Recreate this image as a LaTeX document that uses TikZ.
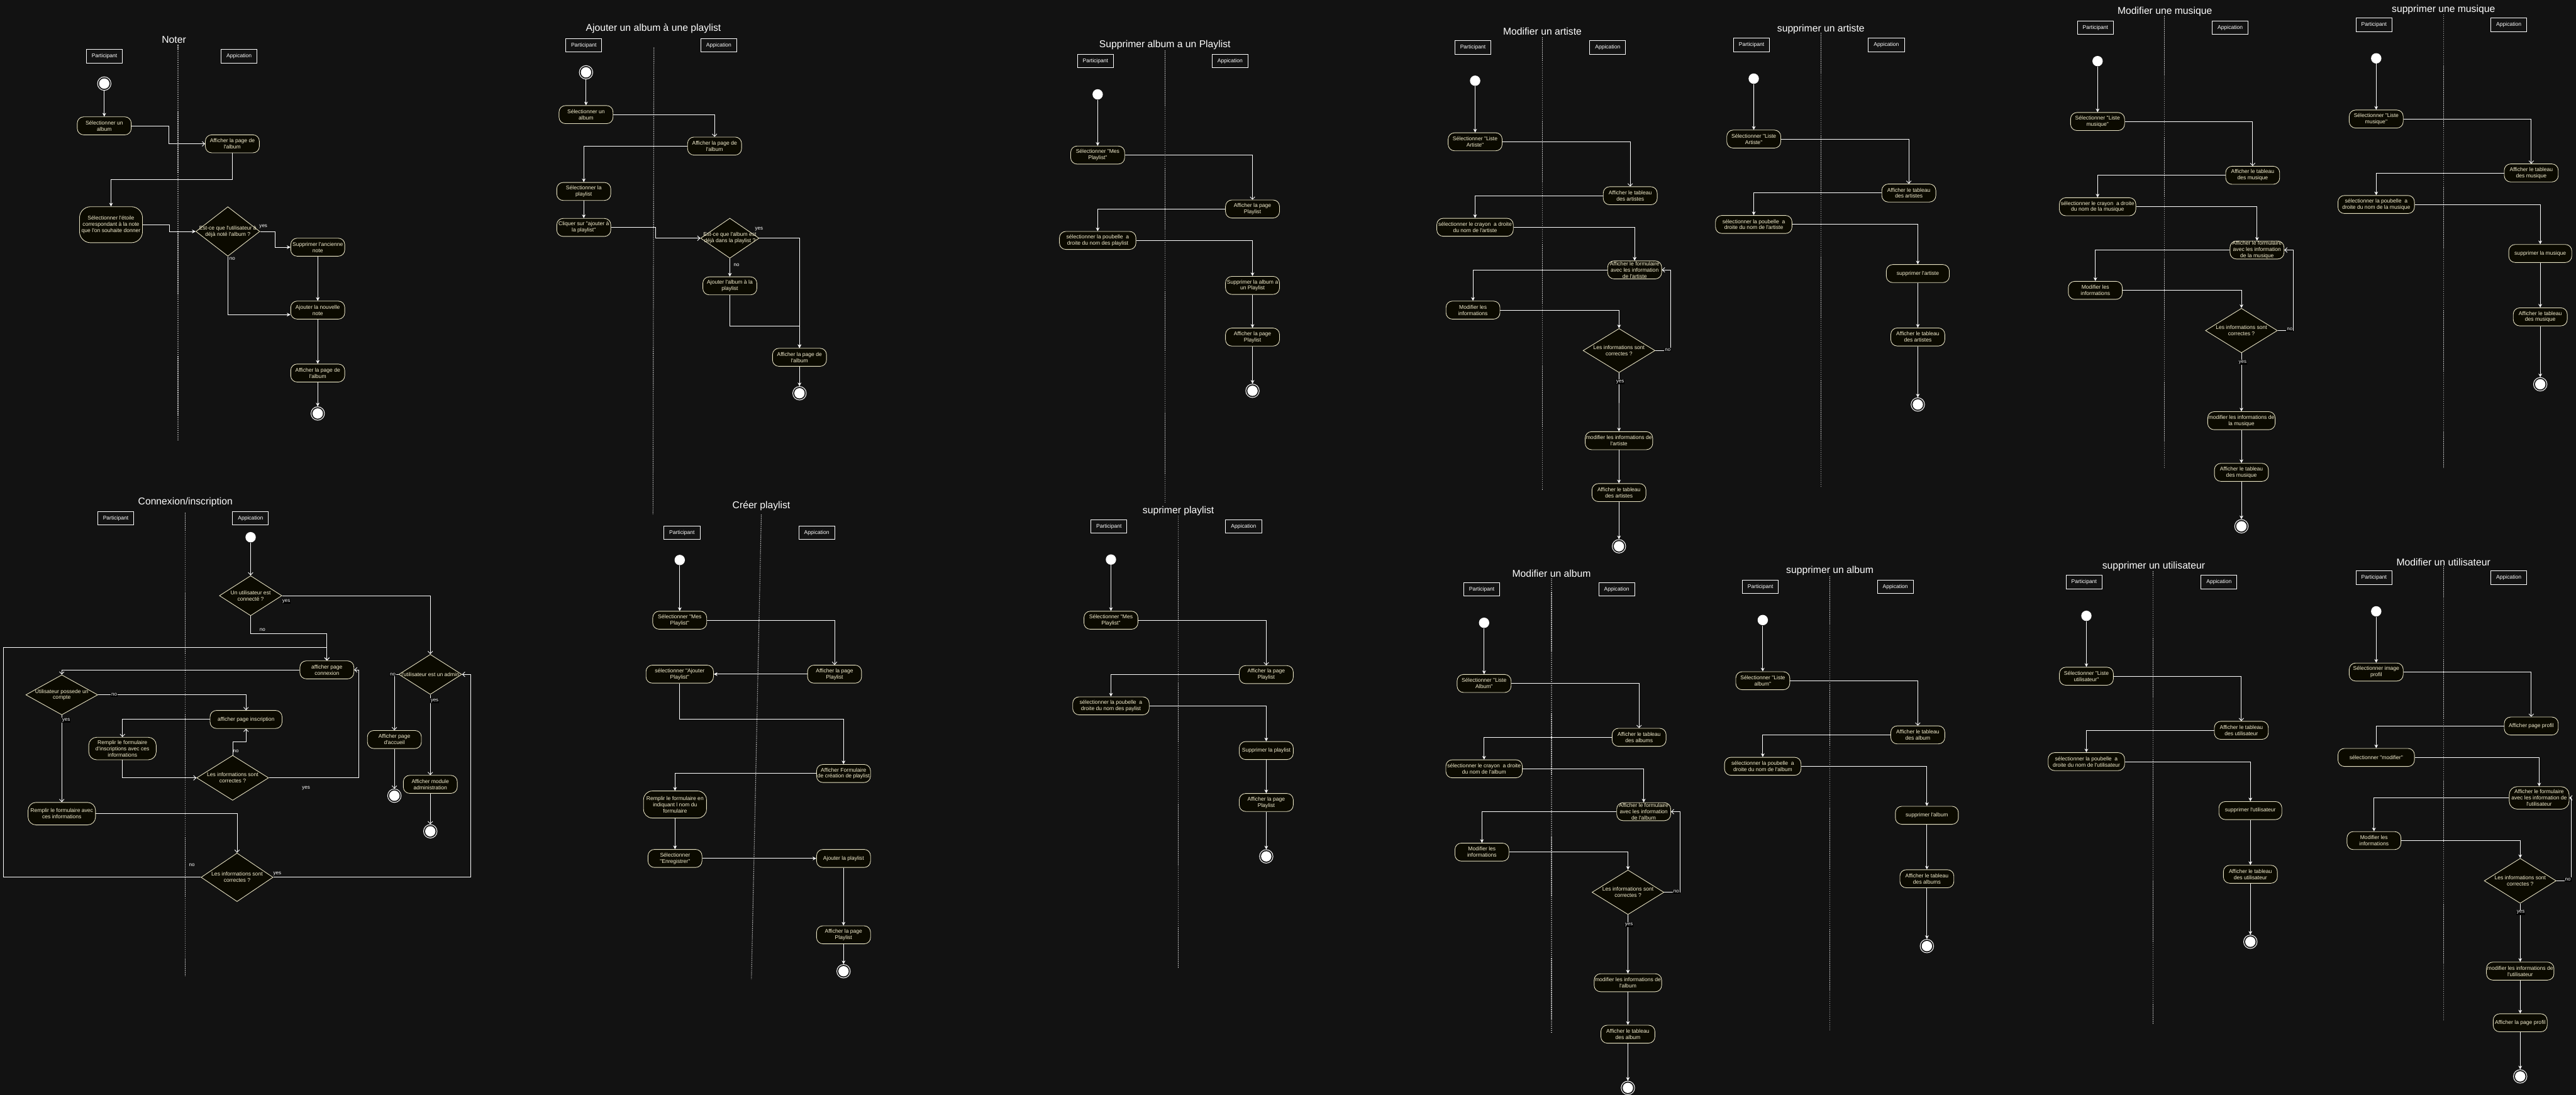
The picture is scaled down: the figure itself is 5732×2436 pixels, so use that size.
\documentclass[tikz,border=0pt]{standalone}
\usepackage{fontspec}
\newfontfamily\lsans{Liberation Sans}
\usetikzlibrary{arrows.meta,shapes.geometric}
\definecolor{bgc}{HTML}{121212}
\definecolor{nfill}{HTML}{0B0A00}
\definecolor{ndraw}{HTML}{E9E4C4}
\definecolor{ntext}{HTML}{F6F0D2}
\definecolor{dvc}{HTML}{BBBBBB}
\newcommand{\fnode}{\lsans\fontsize{3.41pt}{3.95pt}\selectfont}
\newcommand{\ftitle}{\lsans\fontsize{6.25pt}{7.5pt}\selectfont}
\newcommand{\flab}{\lsans\fontsize{3.2pt}{3.8pt}\selectfont}
\tikzset{
  act/.style={rectangle, rounded corners=4pt, draw=ndraw, fill=nfill, text=ntext, font=\fnode, align=center, inner sep=0pt, line width=0.35pt, minimum width=1.2cm, minimum height=0.4cm},
  dec/.style={diamond, draw=ndraw, fill=nfill, inner sep=0pt, line width=0.35pt, minimum width=1.6cm, minimum height=1cm},
  dtx/.style={text=ntext, font=\fnode, align=center, inner sep=0pt},
  strt/.style={circle, fill=white, inner sep=0pt, minimum size=0.23cm},
  fin/.style={circle, draw=white, fill=bgc, line width=0.4pt, inner sep=0pt, minimum size=0.3cm, path picture={\fill[white] (path picture bounding box.center) circle (0.115cm);}},
  lane/.style={rectangle, draw=white, fill=bgc, text=white, font=\fnode, inner sep=0pt, minimum width=0.8cm, minimum height=0.3cm, line width=0.35pt},
  ttl/.style={text=white, font=\ftitle, inner sep=0pt},
  dvd/.style={draw=dvc, line width=0.45pt, dash pattern=on 0.6pt off 0.6pt},
  farr/.style={draw=white, line width=0.35pt, -{Stealth[length=2.3pt, width=2.3pt, inset=0.7pt]}},
  oarr/.style={draw=white, line width=0.35pt, -{Straight Barb[length=1.6pt, width=3pt]}},
  lab/.style={text=white, font=\flab, inner sep=0.4pt},
  labb/.style={lab, fill=black},
}
\begin{document}
\begin{tikzpicture}[x=0.01cm, y=-0.01cm]
\fill[bgc] (0,0) rectangle (5732,2436);
\useasboundingbox (0,0) rectangle (5732,2436);

% ================= Noter
\draw[dvd] (396,100) -- (396,980);
\node[ttl] (tNo) at (387,88) {Noter};
\node[lane] (pNo) at (232.5,125) {Participant};
\node[lane] (aNo) at (532,125) {Appication};
\node[fin] (sNo) at (232,186) {};
\node[act] (na1) at (232,280) {Sélectionner un\\album};
\node[act] (na2) at (517,320) {Afficher la page de\\l'album};
\node[act, minimum width=1.4cm, minimum height=0.8cm, rounded corners=7pt] (na3) at (247,500) {Sélectionner l'étoile\\correspondant à la note\\que l'on souhaite donner};
\node[dec, minimum width=1.42cm, minimum height=1.1cm, label={[dtx]center:{Est-ce que l'utilisateur à\\déjà noté l'album ?}}] (nad) at (507,515) {};
\node[act] (na4) at (707,550) {Supprimer l'ancienne\\note};
\node[act] (na5) at (707,690) {Ajouter la nouvelle\\note};
\node[act] (na6) at (707,830) {Afficher la page de\\l'album};
\node[fin] (eNo) at (707,920) {};
\draw[farr] (sNo) -- (na1);
\draw[oarr] (na1.east) -- (375,280) |- (na2.west);
\draw[farr] (na2.south) -- (517,400) -| (na3.north);
\draw[farr] (na3.east) -- (377,500) |- (nad.west);
\draw[farr] (nad.east) -- (612,515) |- (na4.west);
\draw[farr] (na4) -- (na5);
\draw[farr] (nad.south) |- ([yshift=-0.1cm]na5.west);
\draw[farr] (na5) -- (na6);
\draw[farr] (na6) -- (eNo);
\node[lab] (yNo) at (586,504) {yes};
\node[lab] (nNo) at (517,575) {no};

% ================= Ajouter un album a une playlist
\draw[dvd] (1455,106) -- (1453,1145);
\node[ttl] (tAj) at (1454,64) {Ajouter un album à une playlist};
\node[lane] (pAj) at (1299,100.5) {Participant};
\node[lane] (aAj) at (1599.5,100.5) {Appication};
\node[fin] (sAj) at (1304,161) {};
\node[act] (ab1) at (1304,255) {Sélectionner un\\album};
\node[act] (ab2) at (1590,325) {Afficher la page de\\l'album};
\node[act] (ab3) at (1299,426) {Sélectionner la\\playlist};
\node[act] (ab4) at (1299,506) {Cliquer sur "ajouter à\\la playlist"};
\node[dec, minimum width=1.3cm, minimum height=0.89cm, label={[dtx]center:{Est-ce que l'album est\\déjà dans la playlist ?}}] (abd) at (1624,530) {};
\node[act] (ab5) at (1624,636) {Ajouter l'album à la\\playlist};
\node[act] (ab6) at (1779,795) {Afficher la page de\\l'album};
\node[fin] (eAj) at (1779,875) {};
\draw[farr] (sAj) -- (ab1);
\draw[oarr] (ab1.east) -| (ab2.north);
\draw[farr] (ab2.west) -| (ab3.north);
\draw[farr] (ab3) -- (ab4);
\draw[oarr] (ab4.east) -- (1459,506) |- (abd.west);
\draw[farr] (abd) -- (ab5);
\draw[farr] (abd.east) -| (ab6.north);
\draw[farr] (ab5.south) -- (1624,725) -| (ab6.north);
\draw[farr] (ab6) -- (eAj);
\node[lab] (yAj) at (1689,509) {yes};
\node[lab] (nAj) at (1639,589) {no};

% ================= Creer playlist
\draw[dvd] (1694,1145) -- (1672,2179);
\node[ttl] (tCr) at (1694,1126) {Créer playlist};
\node[lane] (pCr) at (1517.5,1185) {Participant};
\node[lane] (aCr) at (1817.3,1185) {Appication};
\node[strt] (sCr) at (1512.5,1246) {};
\node[act] (cp1) at (1512.5,1380) {Sélectionner "Mes\\Playlist"};
\node[act] (cp2) at (1857,1500) {Afficher la page\\Playlist};
\node[act, minimum width=1.5cm] (cp3) at (1512.5,1500) {sélectionner "Ajouter\\Playlist"};
\node[act] (cp4) at (1877,1721) {Afficher Formulaire\\de création de playlist};
\node[act, minimum width=1.4cm, minimum height=0.6cm, rounded corners=5.5pt] (cp5) at (1502,1790) {Remplir le formulaire en\\indiquant l nom du\\formulaire};
\node[act] (cp6) at (1502,1910) {Sélectionner\\"Enregistrer"};
\node[act] (cp7) at (1877,1910) {Ajouter la playlist};
\node[act] (cp8) at (1877,2080) {Afficher la page\\Playlist};
\node[fin] (eCr) at (1877,2161) {};
\draw[farr] (sCr) -- (cp1);
\draw[oarr] (cp1.east) -| (cp2.north);
\draw[farr] (cp2) -- (cp3);
\draw[farr] (cp3.south) -- (1512.5,1600) -| (cp4.north);
\draw[farr] (cp4.west) -| (cp5.north);
\draw[farr] (cp5) -- (cp6);
\draw[farr] (cp6) -- (cp7);
\draw[farr] (cp7) -- (cp8);
\draw[farr] (cp8) -- (eCr);

% ================= Supprimer album a un Playlist
\draw[dvd] (2592,112) -- (2592,1118);
\node[ttl] (tSa) at (2592,100) {Supprimer album a un Playlist};
\node[lane] (pSa) at (2437.5,135.5) {Participant};
\node[lane] (aSa) at (2737,135.5) {Appication};
\node[strt] (sSa) at (2442.5,210) {};
\node[act] (sa1) at (2442.5,345) {Sélectionner "Mes\\Playlist"};
\node[act] (sa2) at (2787,465) {Afficher la page\\Playlist};
\node[act, minimum width=1.7cm] (sa3) at (2442.5,535) {sélectionner la poubelle~ a\\droite du nom des playlist};
\node[act] (sa4) at (2787,635) {Supprimer la album a\\un Playlist};
\node[act] (sa5) at (2787,750) {Afficher la page\\Playlist};
\node[fin] (eSa) at (2787,869.5) {};
\draw[farr] (sSa) -- (sa1);
\draw[oarr] (sa1.east) -| (sa2.north);
\draw[farr] (sa2.west) -| (sa3.north);
\draw[farr] (sa3.east) -| (sa4.north);
\draw[farr] (sa4) -- (sa5);
\draw[farr] (sa5) -- (eSa);

% ================= suprimer playlist
\draw[dvd] (2622,1147) -- (2622,2154);
\node[ttl] (tSp) at (2622,1137) {suprimer playlist};
\node[lane] (pSp) at (2467.6,1171) {Participant};
\node[lane] (aSp) at (2767.3,1171) {Appication};
\node[strt] (sSp) at (2472,1245) {};
\node[act] (sp1) at (2472,1380) {Sélectionner "Mes\\Playlist"};
\node[act] (sp2) at (2817.6,1501) {Afficher la page\\Playlist};
\node[act, minimum width=1.7cm] (sp3) at (2472,1570.5) {sélectionner la poubelle~ a\\droite du nom des paylist};
\node[act] (sp4) at (2817.6,1670) {Supprimer la playlist};
\node[act] (sp5) at (2817.6,1785.5) {Afficher la page\\Playlist};
\node[fin] (eSp) at (2817.6,1905.5) {};
\draw[farr] (sSp) -- (sp1);
\draw[oarr] (sp1.east) -| (sp2.north);
\draw[farr] (sp2.west) -| (sp3.north);
\draw[farr] (sp3.east) -| (sp4.north);
\draw[farr] (sp4) -- (sp5);
\draw[farr] (sp5) -- (eSp);

% ================= Modifier un artiste
\draw[dvd] (3432,83) -- (3432,1090);
\node[ttl] (tMa) at (3432,70) {Modifier un artiste};
\node[lane] (pMa) at (3277.4,105.5) {Participant};
\node[lane] (aMa) at (3577.3,105.5) {Appication};
\node[strt] (sMa) at (3282.4,179.6) {};
\node[act] (ma1) at (3282.4,315.5) {Sélectionner "Liste\\Artiste"};
\node[act] (ma2) at (3627.5,435.5) {Afficher le tableau\\des artistes};
\node[act, minimum width=1.7cm] (ma3) at (3282.2,505.7) {sélectionner le crayon~ a droite\\du nom de l'artiste};
\node[act] (ma4) at (3637.3,600.5) {Afficher le formulaire\\avec les information\\de l'artiste};
\node[act] (ma5) at (3277.6,690) {Modifier les\\informations};
\node[dec, minimum width=1.6cm, minimum height=0.98cm, label={[dtx]center:{Les informations sont\\correctes ?}}] (mad) at (3602.6,780) {};
\node[act, minimum width=1.5cm] (ma6) at (3602.4,980.5) {modifier les informations de\\l'artiste};
\node[act] (ma7) at (3602.4,1096) {Afficher le tableau\\des artistes};
\node[fin] (eMa) at (3602.4,1215.5) {};
\draw[farr] (sMa) -- (ma1);
\draw[oarr] (ma1.east) -| (ma2.north);
\draw[farr] (ma2.west) -| (ma3.north);
\draw[farr] (ma3.east) -| (ma4.north);
\draw[farr] (ma4.west) -| (ma5.north);
\draw[farr] (ma5.east) -| (mad.north);
\draw[oarr] (mad.east) -| ([xshift=0.2cm]ma4.east) -- (ma4.east);
\draw[farr] (mad) -- (ma6);
\draw[farr] (ma6) -- (ma7);
\draw[farr] (ma7) -- (eMa);
\node[labb] (nMa) at (3711,778) {no};
\node[labb] (yMa) at (3605,850) {yes};

% ================= supprimer un artiste
\draw[dvd] (4051.7,73) -- (4051.7,1084);
\node[ttl] (tSr) at (4051.7,65) {supprimer un artiste};
\node[lane] (pSr) at (3897.4,100) {Participant};
\node[lane] (aSr) at (4197.5,100) {Appication};
\node[strt] (sSr) at (3902.3,175) {};
\node[act] (sr1) at (3902.4,309.4) {Sélectionner "Liste\\Artiste"};
\node[act] (sr2) at (4247.4,429.5) {Afficher le tableau\\des artistes};
\node[act, minimum width=1.7cm] (sr3) at (3902.3,499.4) {sélectionner la poubelle~ a\\droite du nom de l'artiste};
\node[act, minimum width=1.4cm] (sr4) at (4267.4,608.7) {supprimer l'artiste};
\node[act] (sr5) at (4267.4,749.8) {Afficher le tableau\\des artistes};
\node[fin] (eSr) at (4267.4,900) {};
\draw[farr] (sSr) -- (sr1);
\draw[oarr] (sr1.east) -| (sr2.north);
\draw[farr] (sr2.west) -| (sr3.north);
\draw[farr] (sr3.east) -| (sr4.north);
\draw[farr] (sr4) -- (sr5);
\draw[farr] (sr5) -- (eSr);

% ================= Modifier une musique
\draw[dvd] (4816.6,35) -- (4816.6,1043);
\node[ttl] (tMm) at (4817,26) {Modifier une musique};
\node[lane] (pMm) at (4662.6,61.3) {Participant};
\node[lane] (aMm) at (4962.5,61.3) {Appication};
\node[strt] (sMm) at (4667.4,136) {};
\node[act] (mm1) at (4667.4,270.4) {Sélectionner "Liste\\musique"};
\node[act] (mm2) at (5012.5,390) {Afficher le tableau\\des musique};
\node[act, minimum width=1.7cm] (mm3) at (4667.4,460) {sélectionner le crayon~ a droite\\du nom de la musique};
\node[act] (mm4) at (5022.2,556.3) {Afficher le formulaire\\avec les information\\de la musique};
\node[act] (mm5) at (4662.4,646) {Modifier les\\informations};
\node[dec, minimum width=1.6cm, minimum height=0.99cm, label={[dtx]center:{Les informations sont\\correctes ?}}] (mmd) at (4987.5,735.5) {};
\node[act, minimum width=1.5cm] (mm6) at (4987.5,936) {modifier les informations de\\la musique};
\node[act] (mm7) at (4987.5,1051) {Afficher le tableau\\des musique};
\node[fin] (eMm) at (4987.5,1171) {};
\draw[farr] (sMm) -- (mm1);
\draw[oarr] (mm1.east) -| (mm2.north);
\draw[farr] (mm2.west) -| (mm3.north);
\draw[farr] (mm3.east) -| (mm4.north);
\draw[farr] (mm4.west) -| (mm5.north);
\draw[farr] (mm5.east) -| (mmd.north);
\draw[oarr] (mmd.east) -| ([xshift=0.2cm]mm4.east) -- (mm4.east);
\draw[farr] (mmd) -- (mm6);
\draw[farr] (mm6) -- (mm7);
\draw[farr] (mm7) -- (eMm);
\node[labb] (nMm) at (5095,733) {no};
\node[labb] (yMm) at (4990,806) {yes};

% ================= supprimer une musique
\draw[dvd] (5436.8,31.6) -- (5436.8,1041.7);
\node[ttl] (tSm) at (5437,21) {supprimer une musique};
\node[lane] (pSm) at (5282.5,55.5) {Participant};
\node[lane] (aSm) at (5582.5,55.5) {Appication};
\node[strt] (sSm) at (5287.4,129.8) {};
\node[act] (sm1) at (5287.4,264.8) {Sélectionner "Liste\\musique"};
\node[act] (sm2) at (5632.4,384.8) {Afficher le tableau\\des musique};
\node[act, minimum width=1.7cm] (sm3) at (5287.4,455) {sélectionner la poubelle~ a\\droite du nom de la musique};
\node[act, minimum width=1.4cm] (sm4) at (5652.4,564) {supprimer la musique};
\node[act] (sm5) at (5652.4,705) {Afficher le tableau\\des musique};
\node[fin] (eSm) at (5652.4,855) {};
\draw[farr] (sSm) -- (sm1);
\draw[oarr] (sm1.east) -| (sm2.north);
\draw[farr] (sm2.west) -| (sm3.north);
\draw[farr] (sm3.east) -| (sm4.north);
\draw[farr] (sm4) -- (sm5);
\draw[farr] (sm5) -- (eSm);

% ================= Connexion/inscription
\draw[dvd] (412.5,1141) -- (412.5,2172);
\node[ttl] (tCx) at (412.5,1118) {Connexion/inscription};
\node[lane] (pCx) at (257.5,1153) {Participant};
\node[lane] (aCx) at (557.4,1153) {Appication};
\node[strt] (sCx) at (557.7,1195.3) {};
\node[dec, minimum width=1.39cm, minimum height=0.89cm, label={[dtx]center:{Un utilisateur est\\connecté ?}}] (cxd1) at (557.7,1325.4) {};
\node[dec, minimum width=1.4cm, minimum height=0.89cm, label={[dtx]center:{l'utilisateur est un admin}}] (cxd2) at (957.5,1500.5) {};
\node[act] (cxa1) at (727.4,1490.4) {afficher page\\connexion};
\node[dec, minimum width=1.6cm, minimum height=0.89cm, label={[dtx]center:{Utilisateur possede un\\compte}}] (cxd3) at (137.5,1546) {};
\node[act, minimum width=1.6cm] (cxa2) at (547.5,1600.8) {afficher page inscription};
\node[act, minimum width=1.5cm, minimum height=0.5cm, rounded corners=5pt] (cxa3) at (272.5,1665.5) {Remplir le formulaire\\d'inscriptions avec ces\\informations};
\node[dec, minimum width=1.6cm, minimum height=1cm, label={[dtx]center:{Les informations sont\\correctes ?}}] (cxd5) at (517.7,1730.7) {};
\node[act, minimum width=1.5cm, minimum height=0.5cm, rounded corners=5pt] (cxa4) at (137.5,1810.4) {Remplir le formulaire avec\\ces informations};
\node[dec, minimum width=1.6cm, minimum height=1.08cm, label={[dtx]center:{Les informations sont\\correctes ?}}] (cxd4) at (527.5,1952) {};
\node[act] (cxa5) at (877.6,1645.4) {Afficher page\\d'accueil};
\node[fin] (eCx1) at (877.6,1770.4) {};
\node[act] (cxa6) at (957.5,1745.2) {Afficher module\\administration};
\node[fin] (eCx2) at (957.5,1849.7) {};
\draw[oarr] (sCx) -- (cxd1);
\draw[oarr] (cxd1.east) -| (cxd2.north);
\draw[oarr] (cxd1.south) -- (557.7,1410) -| (cxa1.north);
\draw[oarr] (cxd4.west) -| (7,1440.4) -| (cxa1.north);
\draw[oarr] (cxa1.west) -| (cxd3.north);
\draw[oarr] (cxd3.east) -| (cxa2.north);
\draw[oarr] (cxa2.west) -| (cxa3.north);
\draw[oarr] (cxa3.south) |- (cxd5.west);
\draw[oarr] (cxd5.north) -- (517.7,1650.8) -| (cxa2.south);
\draw[oarr] (cxd5.east) -| (797.6,1490.4) -- (cxa1.east);
\draw[oarr] (cxd3) -- (cxa4);
\draw[oarr] (cxa4.east) -| (cxd4.north);
\draw[oarr] (cxd4.east) -| (1047.3,1500.5) -- (cxd2.east);
\draw[oarr] (cxd2.west) -| (cxa5.north);
\draw[oarr] (cxa5) -- (eCx1);
\draw[oarr] (cxd2) -- (cxa6);
\draw[oarr] (cxa6) -- (eCx2);
\node[labb] (yCx1) at (637,1338) {yes};
\node[lab] (nCx1) at (584,1401) {no};
\node[lab] (nCx2) at (427,1925) {no};
\node[labb] (nCx3) at (254,1546) {no};
\node[lab] (nCx4) at (525,1671) {no};
\node[lab] (yCx2) at (681,1753) {yes};
\node[labb] (yCx3) at (147,1603) {yes};
\node[lab] (yCx4) at (617,1944) {yes};
\node[labb] (nCx5) at (874,1500) {no};
\node[labb] (yCx5) at (967,1558.5) {yes};

% ================= Modifier un album
\draw[dvd] (3452.3,1287.3) -- (3452.3,2296.5);
\node[ttl] (tMb) at (3452.3,1276.6) {Modifier un album};
\node[lane] (pMb) at (3297.1,1311) {Participant};
\node[lane] (aMb) at (3597.3,1311) {Appication};
\node[strt] (sMb) at (3302.3,1385.7) {};
\node[act] (mb1) at (3302.3,1520.7) {Sélectionner "Liste\\Album"};
\node[act] (mb2) at (3647.2,1640.5) {Afficher le tableau\\des albums};
\node[act, minimum width=1.7cm] (mb3) at (3302.3,1710.6) {sélectionner le crayon~ a droite\\du nom de l'album};
\node[act] (mb4) at (3657.5,1806) {Afficher le formulaire\\avec les information\\de l'album};
\node[act] (mb5) at (3297.5,1896) {Modifier les\\informations};
\node[dec, minimum width=1.6cm, minimum height=0.99cm, label={[dtx]center:{Les informations sont\\correctes ?}}] (mbd) at (3622.5,1985.3) {};
\node[act, minimum width=1.5cm] (mb6) at (3622.3,2186.6) {modifier les informations de\\l'album};
\node[act] (mb7) at (3622.3,2301) {Afficher le tableau\\des album};
\node[fin] (eMb) at (3622.3,2420.5) {};
\draw[farr] (sMb) -- (mb1);
\draw[oarr] (mb1.east) -| (mb2.north);
\draw[farr] (mb2.west) -| (mb3.north);
\draw[farr] (mb3.east) -| (mb4.north);
\draw[farr] (mb4.west) -| (mb5.north);
\draw[farr] (mb5.east) -| (mbd.north);
\draw[oarr] (mbd.east) -| ([xshift=0.207cm]mb4.east) -- (mb4.east);
\draw[farr] (mbd) -- (mb6);
\draw[farr] (mb6) -- (mb7);
\draw[farr] (mb7) -- (eMb);
\node[labb] (nMb) at (3730,1984) {no};
\node[labb] (yMb) at (3624.6,2057) {yes};

% ================= supprimer un album
\draw[dvd] (4071.7,1282) -- (4071.7,2291);
\node[ttl] (tSb) at (4071.7,1270.5) {supprimer un album};
\node[lane] (pSb) at (3917.2,1305.6) {Participant};
\node[lane] (aSb) at (4217.4,1305.6) {Appication};
\node[strt] (sSb) at (3922.4,1379.6) {};
\node[act] (sb1) at (3922.4,1514.6) {Sélectionner "Liste\\album"};
\node[act] (sb2) at (4267.4,1635.1) {Afficher le tableau\\des album};
\node[act, minimum width=1.7cm] (sb3) at (3922.4,1705) {sélectionner la poubelle~ a\\droite du nom de l'album};
\node[act, minimum width=1.4cm] (sb4) at (4287.6,1814) {supprimer l'album};
\node[act] (sb5) at (4287.6,1955.2) {Afficher le tableau\\des albums};
\node[fin] (eSb) at (4287.6,2105) {};
\draw[farr] (sSb) -- (sb1);
\draw[oarr] (sb1.east) -| (sb2.north);
\draw[farr] (sb2.west) -| (sb3.north);
\draw[farr] (sb3.east) -| (sb4.north);
\draw[farr] (sb4) -- (sb5);
\draw[farr] (sb5) -- (eSb);

% ================= supprimer un utilisateur
\draw[dvd] (4791.4,1271.3) -- (4791.4,2279.2);
\node[ttl] (tSu) at (4792.2,1260.5) {supprimer un utilisateur};
\node[lane] (pSu) at (4637.3,1295) {Participant};
\node[lane] (aSu) at (4937.5,1295) {Appication};
\node[strt] (sSu) at (4642.5,1370.2) {};
\node[act] (su1) at (4642.5,1504.6) {Sélectionner "Liste\\utilisateur"};
\node[act] (su2) at (4987.3,1625) {Afficher le tableau\\des utilisateur};
\node[act, minimum width=1.7cm] (su3) at (4642.5,1694.6) {sélectionner la poubelle~ a\\droite du nom de l'utilisateur};
\node[act, minimum width=1.4cm] (su4) at (5007.4,1803.5) {supprimer l'utilisateur};
\node[act] (su5) at (5007.4,1945.2) {Afficher le tableau\\des utilisateur};
\node[fin] (eSu) at (5007.4,2095.4) {};
\draw[farr] (sSu) -- (su1);
\draw[oarr] (su1.east) -| (su2.north);
\draw[farr] (su2.west) -| (su3.north);
\draw[farr] (su3.east) -| (su4.north);
\draw[farr] (su4) -- (su5);
\draw[farr] (su5) -- (eSu);

% ================= Modifier un utilisateur
\draw[dvd] (5436.9,1259.8) -- (5436.9,2269.2);
\node[ttl] (tMu) at (5436.9,1250.5) {Modifier un utilisateur};
\node[lane] (pMu) at (5282.5,1285.3) {Participant};
\node[lane] (aMu) at (5582.5,1285.3) {Appication};
\node[strt] (sMu) at (5287.4,1360.2) {};
\node[act] (mu1) at (5287.4,1495.3) {Sélectionner image\\profil};
\node[act] (mu2) at (5632.4,1615.4) {Afficher page profil};
\node[act, minimum width=1.7cm] (mu3) at (5287.4,1685.3) {sélectionner "modifier"};
\node[act, minimum width=1.33cm, minimum height=0.5cm, rounded corners=5pt] (mu4) at (5650,1775.3) {Afficher le formulaire\\avec les information de\\l'utilisateur};
\node[act] (mu5) at (5282.4,1870.3) {Modifier les\\informations};
\node[dec, minimum width=1.6cm, minimum height=1cm, label={[dtx]center:{Les informations sont\\correctes ?}}] (mud) at (5607.8,1959.8) {};
\node[act, minimum width=1.5cm] (mu6) at (5607.8,2160.7) {modifier les informations de\\l'utilisateur};
\node[act] (mu7) at (5607.8,2275.7) {Afficher la page profil};
\node[fin] (eMu) at (5607.8,2395) {};
\draw[farr] (sMu) -- (mu1);
\draw[oarr] (mu1.east) -| (mu2.north);
\draw[farr] (mu2.west) -| (mu3.north);
\draw[farr] (mu3.east) -| (mu4.north);
\draw[farr] (mu4.west) -| (mu5.north);
\draw[farr] (mu5.east) -| (mud.north);
\draw[oarr] (mud.east) -| ([xshift=0.04cm]mu4.east) -- (mu4.east);
\draw[farr] (mud) -- (mu6);
\draw[farr] (mu6) -- (mu7);
\draw[farr] (mu7) -- (eMu);
\node[labb] (nMu) at (5714,1957) {no};
\node[labb] (yMu) at (5609,2030) {yes};
\end{tikzpicture}
\end{document}
